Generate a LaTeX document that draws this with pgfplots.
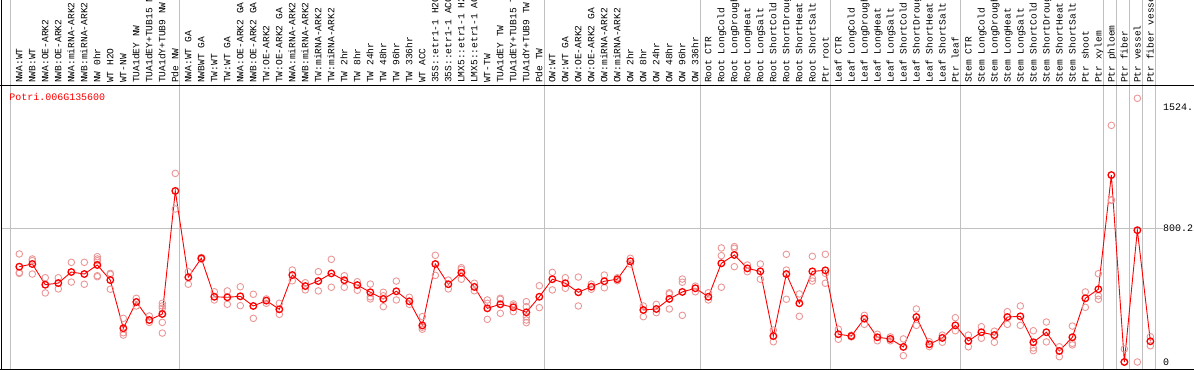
\documentclass[border=0pt]{standalone}
\usepackage{fontspec}
\setmainfont{Liberation Mono}
\usepackage{pgfplots}
\pgfplotsset{compat=1.18}
\definecolor{meanred}{RGB}{255,0,0}
\definecolor{reppink}{RGB}{235,150,150}
\definecolor{gridc}{RGB}{192,192,192}
\begin{document}
\begin{tikzpicture}
\useasboundingbox (0,0) rectangle (1194bp,370bp);
\clip (0,0) rectangle (1194bp,370bp);
\begin{axis}[
 at={(1bp,1bp)}, anchor=south west,
 scale only axis, width=1154bp, height=283.5bp,
 xmin=-1.408, xmax=87.36, ymin=-41.9, ymax=1653.5,
 axis line style={draw=none},
 ytick=\empty,
 xtick={0,...,87},
 xticklabels={NWA:WT,NWB:WT,NWA:OE-ARK2,NWB:OE-ARK2,NWA:miRNA-ARK2,NWB:miRNA-ARK2,NW 0hr,WT H2O,WT-NW,TUA1dEY NW,TUA1dEY+TUB15 NW,TUA1dY+TUB9 NW,Pde NW,
 NWA:WT GA,NWBWT GA,TW:WT,TW:WT GA,NWA:OE-ARK2 GA,NWB:OE-ARK2 GA,TW:OE-ARK2,TW:OE-ARK2 GA,NWA:miRNA-ARK2 GA,NWB:miRNA-ARK2 GA,TW:miRNA-ARK2,TW:miRNA-ARK2,TW 2hr,TW 8hr,TW 24hr,TW 48hr,TW 96hr,TW 336hr,WT ACC,35S::etr1-1 H2O,35S::etr1-1 ACC,LMX5::etr1-1 H2O,LMX5::etr1-1 ACC,WT-TW,TUA1dEY TW,TUA1dEY+TUB15 TW,TUA1dY+TUB9 TW,Pde TW,
 OW:WT,OW:WT GA,OW:OE-ARK2,OW:OE-ARK2 GA,OW:miRNA-ARK2,OW:miRNA-ARK2,OW 2hr,OW 8hr,OW 24hr,OW 48hr,OW 96hr,OW 336hr,
 Root CTR,Root LongCold,Root LongDrought,Root LongHeat,Root LongSalt,Root ShortCold,Root ShortDrought,Root ShortHeat,Root ShortSalt,Ptr root,
 Leaf CTR,Leaf LongCold,Leaf LongDrought,Leaf LongHeat,Leaf LongSalt,Leaf ShortCold,Leaf ShortDrought,Leaf ShortHeat,Leaf ShortSalt,Ptr leaf,
 Stem CTR,Stem LongCold,Stem LongDrought,Stem LongHeat,Stem LongSalt,Stem ShortCold,Stem ShortDrought,Stem ShortHeat,Stem ShortSalt,Ptr shoot,Ptr xylem,
 Ptr phloem,Ptr fiber,Ptr vessel,Ptr fiber vessel},
 xticklabel pos=upper,
 major tick length=0pt,
 xticklabel style={rotate=90, anchor=west, inner sep=0pt, font=\fontsize{9.6}{10}\selectfont, text height=6.3bp, text depth=0pt},
 xticklabel shift=2.5bp,
 clip=false,
]
\pgfplotsinvokeforeach{-0.64,12.36,40.43,52.36,62.37,72.36,83.41,84.38,85.38,86.38,87.38}{
  \draw[gridc, line width=1bp] (axis cs:#1,-41.9) -- (axis cs:#1,2170);
}
\draw[gridc, line width=1bp] (axis cs:-1.408,800.2) -- (axis cs:87.98,800.2);

\addplot[only marks, mark=o, mark size=3.3bp, draw=reppink, mark options={line width=0.9bp, draw=reppink}] table {
k v
0 646
0 530
0 535
1 616
1 606
1 526
2 504
2 413
3 504
3 437
4 596
4 478
5 596
5 465
6 630
6 616
6 606
6 516
6 510
7 530
7 524
7 435
8 261
8 175
8 161
9 381
9 335
10 275
10 237
11 351
11 335
11 321
11 237
11 173
12 1128
12 915
13 540
13 465
14 615
14 625
15 420
15 371
16 425
16 345
17 450
17 337
18 405
18 261
19 377
19 351
20 351
20 285
21 550
21 486
22 474
22 431
23 540
23 425
24 614
24 447
25 516
25 447
26 480
26 429
27 466
27 390
27 377
28 417
28 396
28 331
29 484
29 371
30 387
30 345
31 271
31 208
31 196
32 638
32 518
33 490
33 437
34 564
34 554
34 495
35 471
35 426
36 371
36 351
36 255
37 381
37 375
37 291
38 347
38 337
38 301
39 361
39 331
39 271
39 251
39 235
40 456
40 325
41 536
41 431
42 504
42 441
43 508
43 335
44 466
44 435
45 520
45 444
46 504
46 486
47 620
47 586
48 335
48 271
49 345
49 295
50 414
50 407
50 317
51 496
51 477
51 279
52 454
52 420
53 414
53 371
54 682
54 636
54 447
55 690
55 680
55 570
56 580
56 540
57 586
57 495
58 191
58 121
59 644
59 550
59 375
60 407
60 273
61 632
61 501
61 484
62 644
62 530
62 471
63 196
63 136
64 150
64 160
65 279
65 225
66 166
66 127
67 127
67 150
68 138
68 38
69 317
69 219
70 121
70 92
71 161
71 118
72 265
72 187
73 161
73 91
74 211
74 142
75 184
75 118
76 301
76 225
77 335
77 219
78 187
78 84
78 68
79 239
79 120
80 91
80 32
81 215
81 112
81 102
82 419
82 327
83 528
83 396
83 375
84 1415
84 967
84 970
85 78
85 0
86 1577
86 0
87 151
87 97
};

\addplot[draw=meanred, line width=0.9bp, mark=o, mark size=3.3bp, mark options={line width=1.3bp, draw=meanred}] table {
k v
0 570
1 586
2 462
3 472
4 538
5 526
6 580
7 490
8 202
9 359
10 251
11 287
12 1023
13 507
14 620
15 390
16 387
17 393
18 335
19 367
20 315
21 520
22 454
23 484
24 530
25 489
26 460
27 417
28 377
29 423
30 363
31 219
32 586
33 465
34 534
35 449
36 321
37 345
38 327
39 297
40 390
41 495
42 471
43 417
44 450
45 483
46 495
47 602
48 311
49 317
50 377
51 419
52 441
53 390
54 590
55 640
56 560
57 542
58 155
59 526
60 351
61 542
62 548
63 166
64 155
65 259
66 148
67 138
68 90
69 269
70 106
71 144
72 219
73 126
74 178
75 161
76 269
77 273
78 118
79 178
80 66
81 148
82 381
83 435
84 1118
85 0
86 788
87 124
};

\node[anchor=west, font=\fontsize{10}{12}\selectfont, inner sep=0pt] at (axis cs:87.36,1524) [xshift=8bp] {1524.};
\node[anchor=west, font=\fontsize{10}{12}\selectfont, inner sep=0pt] at (axis cs:87.36,800.2) [xshift=8bp] {800.2};
\node[anchor=west, font=\fontsize{10}{12}\selectfont, inner sep=0pt] at (axis cs:87.36,0) [xshift=8bp] {0};
\node[anchor=west, font=\fontsize{10}{12}\selectfont, inner sep=0pt, text=meanred] at (axis cs:-1.408,1585) [xshift=8.3bp] {Potri.006G135600};
\end{axis}
\draw[black, line width=1bp] (1.5bp,0) -- (1.5bp,370bp);
\draw[black, line width=1bp] (0,284.5bp) -- (1194bp,284.5bp);
\draw[black, line width=1bp] (0,1bp) -- (1194bp,1bp);
\end{tikzpicture}
\end{document}
